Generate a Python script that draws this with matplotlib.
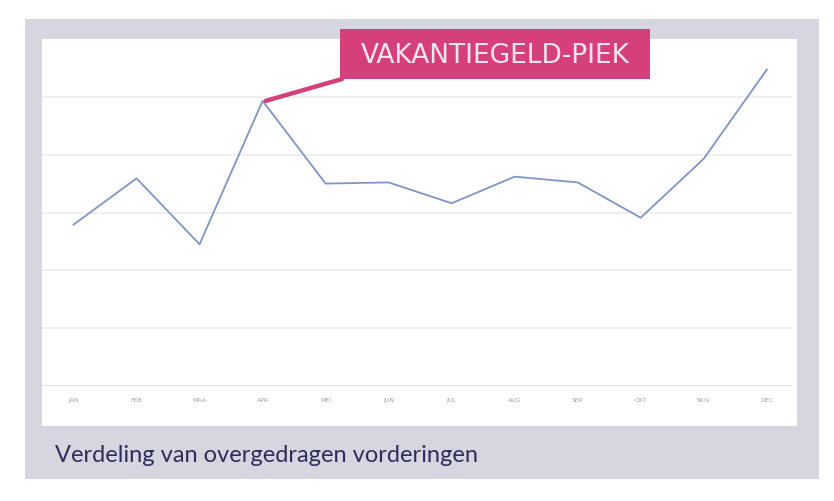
import matplotlib
matplotlib.use('Agg')
import matplotlib.pyplot as plt
from matplotlib.patches import Rectangle, ConnectionPatch

months = ['JAN', 'FEB', 'MAA', 'APR', 'MEI', 'JUN', 'JUL', 'AUG', 'SEP', 'OKT', 'NOV', 'DEC']
values = [27.9, 35.9, 24.5, 49.3, 35.0, 35.2, 31.6, 36.2, 35.2, 29.1, 39.3, 54.7]
peak_label = 'VAKANTIEGELD-PIEK'
caption = 'Verdeling van overgedragen vorderingen'

W, H = 834, 502
fig = plt.figure(figsize=(W / 100, H / 100), dpi=100)
fig.patch.set_facecolor('white')


def fx(px):
    return px / W


def fy(py):
    return 1 - py / H


# grey frame and white chart card
fig.patches.append(Rectangle((fx(25), fy(480)), fx(819) - fx(25), fy(20) - fy(480),
                             transform=fig.transFigure, facecolor='#d6d6e1', edgecolor='none', zorder=0))
fig.patches.append(Rectangle((fx(42), fy(427)), fx(797) - fx(42), fy(40) - fy(427),
                             transform=fig.transFigure, facecolor='white', edgecolor='none', zorder=0))

ax = fig.add_axes([fx(42), fy(387), fx(792) - fx(42), fy(40) - fy(387)])
ax.set_zorder(2)
ax.set_facecolor('none')
x = list(range(len(months)))
ax.plot(x, values, color='#7f95c6', lw=1.3, zorder=3)
ax.set_xlim(-0.5, 11.4)
ax.set_ylim(0, 60)
for g in [10, 20, 30, 40, 50]:
    ax.axhline(g, color='#ececf0', lw=1.2, zorder=1)
ax.axhline(0, color='#dedee6', lw=1.3, zorder=1)
for s in ax.spines.values():
    s.set_visible(False)
ax.set_yticks([])
ax.set_xticks(x)
ax.set_xticklabels(months, fontsize=4.5, color='#a0a0a8')
ax.tick_params(axis='x', length=0, pad=8)

# callout box
bx0, by0, bx1, by1 = 340, 30, 650, 80
fig.patches.append(Rectangle((fx(bx0), fy(by1)), fx(bx1) - fx(bx0), fy(by0) - fy(by1),
                             transform=fig.transFigure, facecolor='#d5407c', edgecolor='none', zorder=5))
fig.text(fx((bx0 + bx1) / 2), fy((by0 + by1) / 2 + 1), peak_label,
         ha='center', va='center', color='#f7e4ee', fontsize=19,
         family=['Liberation Sans Narrow', 'DejaVu Sans'], zorder=6)
con = ConnectionPatch(xyA=(3.05, values[3]), coordsA=ax.transData,
                      xyB=(fx(bx0 + 2), fy(by1)), coordsB=fig.transFigure,
                      color='#d5407c', lw=3.2, zorder=4)
fig.add_artist(con)

fig.text(fx(55), fy(456), caption, ha='left', va='center', color='#2f2d5c',
         fontsize=17, family=['Lato', 'DejaVu Sans'])

fig.savefig('out.png', dpi=100)
